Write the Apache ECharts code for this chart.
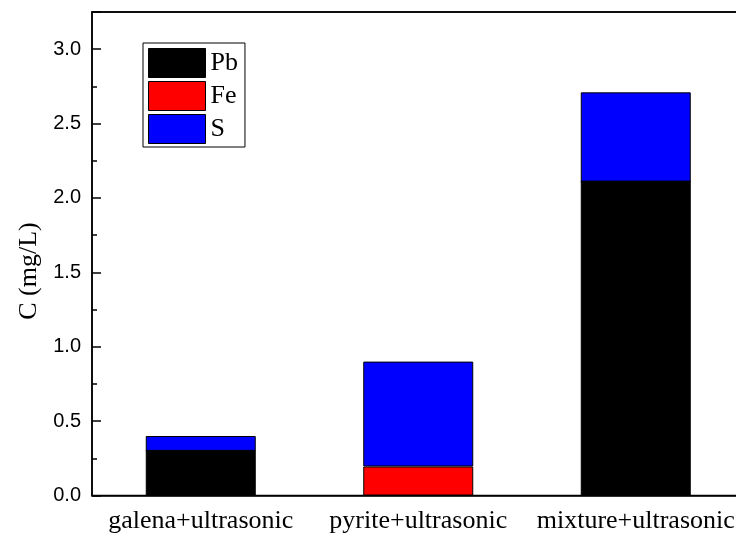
<!DOCTYPE html>
<html><head><meta charset="utf-8">
<script src="https://cdn.jsdelivr.net/npm/echarts@6/dist/echarts.min.js"></script>
<style>html,body{margin:0;padding:0;background:#fff}#c{width:736px;height:536px}</style>
</head><body><div id="c"></div>
<script>
const categories = ['galena+ultrasonic', 'pyrite+ultrasonic', 'mixture+ultrasonic'];
const pbValues = [0.30, 0, 2.11];
const feValues = [0, 0.195, 0];
const sValues = [0.10, 0.705, 0.60];
const seriesNames = ['Pb', 'Fe', 'S'];
const colors = ['#000000', '#ff0000', '#0000ff'];
const yTitle = 'C (mg/L)';

const chart = echarts.init(document.getElementById('c'));
const mk = (name, data, color) => ({
  name, type: 'bar', stack: 'total', data, barWidth: 110,
  itemStyle: { color, borderColor: '#000', borderWidth: 1 }
});
chart.setOption({
  animation: false,
  backgroundColor: '#fff',
  grid: { left: 92, width: 652.5, top: 12, height: 483.5, containLabel: false, outerBoundsMode: 'none', show: true, borderColor: '#000', borderWidth: 1.5, backgroundColor: 'transparent' },
  legend: {
    left: 143, top: 43, orient: 'vertical', itemWidth: 57, itemHeight: 29, itemGap: 3,
    data: seriesNames.map(n => ({ name: n, itemStyle: { borderColor: '#000', borderWidth: 1 } })),
    textStyle: { fontFamily: 'Liberation Serif', fontSize: 26, color: '#000' },
    borderColor: '#000', borderWidth: 1, padding: [5, 7, 3, 5],
    icon: 'rect'
  },
  graphic: [{
    type: 'text', x: 29, y: 271, rotation: Math.PI / 2,
    style: { text: yTitle, fontFamily: 'Liberation Serif', fontSize: 26, fill: '#000', align: 'center', verticalAlign: 'middle' }
  }],
  xAxis: [{
    type: 'category', data: categories, position: 'bottom',
    axisLine: { show: true, lineStyle: { color: '#000', width: 1.5 } },
    axisTick: { show: false },
    axisLabel: { interval: 0, hideOverlap: false, fontFamily: 'Liberation Serif', fontSize: 26, color: '#000', margin: 13 }
  }, {
    type: 'category', data: categories, position: 'top',
    axisLine: { show: true, lineStyle: { color: '#000', width: 1.5 } },
    axisTick: { show: false },
    axisLabel: { show: false }
  }],
  yAxis: {
    type: 'value', min: 0, max: 3.25, interval: 0.5,
    axisLine: { show: true, lineStyle: { color: '#000', width: 1.5 } },
    axisTick: { show: true, inside: true, length: 9, lineStyle: { color: '#000', width: 1.5 } },
    minorTick: { show: true, splitNumber: 2, length: 5, lineStyle: { color: '#000', width: 1.5 } },
    splitLine: { show: false },
    axisLabel: {
      fontFamily: 'Liberation Sans', fontSize: 20, color: '#000', margin: 11,
      formatter: v => (Math.abs(v / 0.5 - Math.round(v / 0.5)) < 1e-6 ? v.toFixed(1) : '')
    }
  },
  series: [mk('Pb', pbValues, colors[0]), mk('Fe', feValues, colors[1]), mk('S', sValues, colors[2])]
});
</script></body></html>
